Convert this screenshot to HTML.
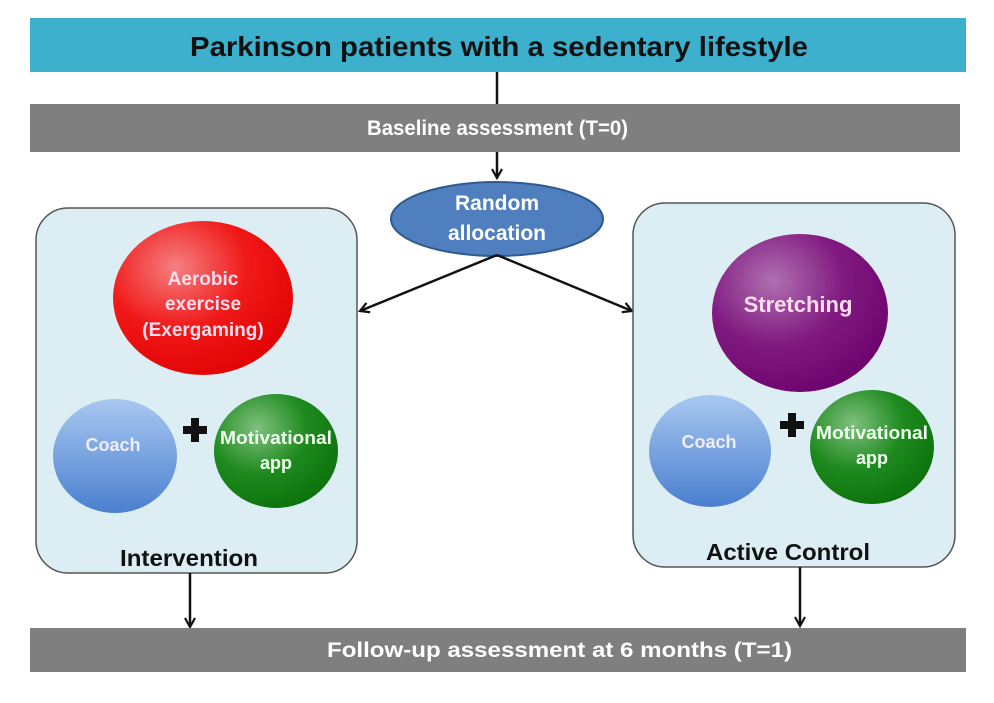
<!DOCTYPE html>
<html><head><meta charset="utf-8"><style>
html,body{margin:0;padding:0;background:#fff;}
svg{display:block;font-family:"Liberation Sans",Arial,sans-serif;font-weight:bold;}
</style></head><body>
<svg width="994" height="703" viewBox="0 0 994 703" xmlns="http://www.w3.org/2000/svg">
<defs>
<radialGradient id="red" cx="0.35" cy="0.3" r="0.8"><stop offset="0" stop-color="#f58080"/><stop offset="0.5" stop-color="#f01818"/><stop offset="1" stop-color="#e00000"/></radialGradient>
<radialGradient id="pur" cx="0.35" cy="0.3" r="0.8"><stop offset="0" stop-color="#b070b0"/><stop offset="0.5" stop-color="#801a80"/><stop offset="1" stop-color="#6a006a"/></radialGradient>
<linearGradient id="blu" x1="0" y1="0" x2="0" y2="1"><stop offset="0" stop-color="#a8c8f0"/><stop offset="1" stop-color="#4a7fcf"/></linearGradient>
<radialGradient id="grn" cx="0.35" cy="0.3" r="0.8"><stop offset="0" stop-color="#7fc07f"/><stop offset="0.5" stop-color="#1e8a1e"/><stop offset="1" stop-color="#0a6e0a"/></radialGradient>
<marker id="ah" markerWidth="12" markerHeight="12" refX="10" refY="6" orient="auto" markerUnits="userSpaceOnUse"><path d="M1,1 L10,6 L1,11" fill="none" stroke="#111" stroke-width="2.2"/></marker>
</defs>
<rect x="30" y="18" width="936" height="54" fill="#3cb0cc"/>
<text x="190" y="56" font-size="28" fill="#111" textLength="618" lengthAdjust="spacingAndGlyphs">Parkinson patients with a sedentary lifestyle</text>
<line x1="497" y1="72" x2="497" y2="105" stroke="#111" stroke-width="2.5"/>
<rect x="30" y="104" width="930" height="48" fill="#7f7f7f"/>
<text x="367" y="135" font-size="21" fill="#fff" textLength="261" lengthAdjust="spacingAndGlyphs">Baseline assessment (T=0)</text>
<line x1="497" y1="152" x2="497" y2="178" stroke="#111" stroke-width="2.5" marker-end="url(#ah)"/>
<ellipse cx="497" cy="219" rx="106" ry="37" fill="#4f7fbf" stroke="#2e5a8e" stroke-width="2"/>
<text x="497" y="210" font-size="21" text-anchor="middle" fill="#fff">Random</text>
<text x="497" y="240" font-size="21" text-anchor="middle" fill="#fff">allocation</text>
<line x1="497" y1="255" x2="360" y2="311" stroke="#111" stroke-width="2.5" marker-end="url(#ah)"/>
<line x1="497" y1="255" x2="632" y2="311" stroke="#111" stroke-width="2.5" marker-end="url(#ah)"/>

<rect x="36" y="208" width="321" height="365" rx="32" fill="#dceef4" stroke="#555" stroke-width="1.5"/>
<ellipse cx="203" cy="298" rx="90" ry="77" fill="url(#red)"/>
<text x="203" y="285" font-size="19" text-anchor="middle" fill="#fde">Aerobic</text>
<text x="203" y="310" font-size="19" text-anchor="middle" fill="#fde">exercise</text>
<text x="203" y="336" font-size="19" text-anchor="middle" fill="#fde">(Exergaming)</text>
<ellipse cx="115" cy="456" rx="62" ry="57" fill="url(#blu)"/>
<text x="113" y="451" font-size="18" text-anchor="middle" fill="#eef">Coach</text>
<ellipse cx="276" cy="451" rx="62" ry="57" fill="url(#grn)"/>
<text x="220" y="444" font-size="18" fill="#efe" textLength="112" lengthAdjust="spacingAndGlyphs">Motivational</text>
<text x="276" y="469" font-size="18" text-anchor="middle" fill="#efe">app</text>
<path d="M191,418h8v8h8v8h-8v8h-8v-8h-8v-8h8z" fill="#111"/>
<text x="120" y="566" font-size="23" fill="#111" textLength="138" lengthAdjust="spacingAndGlyphs">Intervention</text>

<rect x="633" y="203" width="322" height="364" rx="32" fill="#dceef4" stroke="#555" stroke-width="1.5"/>
<ellipse cx="800" cy="313" rx="88" ry="79" fill="url(#pur)"/>
<text x="798" y="312" font-size="22" text-anchor="middle" fill="#fde">Stretching</text>
<ellipse cx="710" cy="451" rx="61" ry="56" fill="url(#blu)"/>
<text x="709" y="448" font-size="18" text-anchor="middle" fill="#eef">Coach</text>
<ellipse cx="872" cy="447" rx="62" ry="57" fill="url(#grn)"/>
<text x="816" y="439" font-size="18" fill="#efe" textLength="112" lengthAdjust="spacingAndGlyphs">Motivational</text>
<text x="872" y="464" font-size="18" text-anchor="middle" fill="#efe">app</text>
<path d="M788,413h8v8h8v8h-8v8h-8v-8h-8v-8h8z" fill="#111"/>
<text x="706" y="560" font-size="23" fill="#111" textLength="164" lengthAdjust="spacingAndGlyphs">Active Control</text>

<line x1="190" y1="573" x2="190" y2="627" stroke="#111" stroke-width="2.5" marker-end="url(#ah)"/>
<line x1="800" y1="567" x2="800" y2="626" stroke="#111" stroke-width="2.5" marker-end="url(#ah)"/>
<rect x="30" y="628" width="936" height="44" fill="#7f7f7f"/>
<text x="327" y="657" font-size="21" fill="#fff" textLength="465" lengthAdjust="spacingAndGlyphs">Follow-up assessment at 6 months (T=1)</text>
</svg>
</body></html>
